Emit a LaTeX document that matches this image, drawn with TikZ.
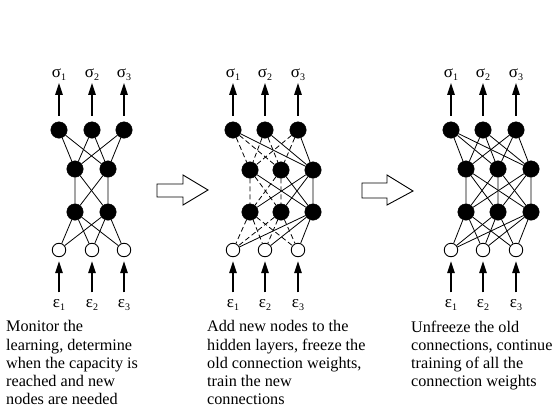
\documentclass[tikz,border=0pt]{standalone}
\usepackage{fontspec}
\setmainfont{Liberation Serif}
\usepackage{tikz}
\usetikzlibrary{arrows.meta}

\newcommand\sub[1]{\raisebox{-0.35ex}{\fontsize{10}{10}\selectfont #1}}

\tikzset{
  full/.style={circle, draw, fill=black, minimum size=16.5pt, inner sep=0pt},
  empty/.style={circle, draw, line width=0.9pt, fill=white, minimum size=13.5pt, inner sep=0pt},
  lbl/.style={inner sep=1pt, font=\fontsize{17}{17}\selectfont},
  feed/.style={line width=1.3pt, -{Triangle[length=12pt,width=7.5pt]}},
  link/.style={line width=0.8pt},
  frozen/.style={line width=0.8pt, dash pattern=on 5pt off 3pt},
  note/.style={anchor=north west, inner sep=0pt, align=left,
    font=\fontsize{16.2}{18.2}\selectfont},
  bigarrow/.style={draw, line width=0.9pt, fill=white}
}

\begin{document}
\begin{tikzpicture}[x=1pt, y=-1pt]
        \useasboundingbox (0,0) rectangle (552,410);

        % left net: two hidden nodes per layer
        \node[full] (oa1) at (59,130) {};
        \node[full] (oa2) at (92,130) {};
        \node[full] (oa3) at (124,130) {};
        \node[full] (ua1) at (75,169) {};
        \node[full] (ua2) at (108,169) {};
        \node[full] (la1) at (75,212) {};
        \node[full] (la2) at (108,212) {};
        \node[empty] (ia1) at (59,250) {};
        \node[empty] (ia2) at (92,250) {};
        \node[empty] (ia3) at (124,250) {};

        \node[lbl] (sa1) at (59,75) {σ\sub1};
        \node[lbl] (sa2) at (92,75) {σ\sub2};
        \node[lbl] (sa3) at (124,75) {σ\sub3};
        \node[lbl] (ea1) at (59,305) {ε\sub1};
        \node[lbl] (ea2) at (92,305) {ε\sub2};
        \node[lbl] (ea3) at (124,305) {ε\sub3};

        \draw[link] (oa1) -- (ua1) (oa1) -- (ua2);
        \draw[link] (oa2) -- (ua1) (oa2) -- (ua2);
        \draw[link] (oa3) -- (ua1) (oa3) -- (ua2);
        \draw[link] (ua1) -- (la1) (ua1) -- (la2);
        \draw[link] (ua2) -- (la1) (ua2) -- (la2);
        \draw[link] (la1) -- (ia1) (la1) -- (ia2) (la1) -- (ia3);
        \draw[link] (la2) -- (ia1) (la2) -- (ia2) (la2) -- (ia3);

        \draw[feed, shorten <=6pt, shorten >=1pt] (oa1) -- (sa1);
        \draw[feed, shorten <=6pt, shorten >=1pt] (oa2) -- (sa2);
        \draw[feed, shorten <=6pt, shorten >=1pt] (oa3) -- (sa3);
        \draw[feed, shorten <=6pt, shorten >=4pt] (ea1) -- (ia1);
        \draw[feed, shorten <=6pt, shorten >=4pt] (ea2) -- (ia2);
        \draw[feed, shorten <=6pt, shorten >=4pt] (ea3) -- (ia3);

        % middle net: new node on the right, old weights frozen (dashed)
        \node[full] (ob1) at (233,130) {};
        \node[full] (ob2) at (265,130) {};
        \node[full] (ob3) at (298,130) {};
        \node[full] (ub1) at (250,170) {};
        \node[full] (ub2) at (281,170) {};
        \node[full] (ub3) at (313,170) {};
        \node[full] (lb1) at (250,212) {};
        \node[full] (lb2) at (281,212) {};
        \node[full] (lb3) at (313,212) {};
        \node[empty] (ib1) at (233,250) {};
        \node[empty] (ib2) at (265,250) {};
        \node[empty] (ib3) at (298,250) {};

        \node[lbl] (sb1) at (233,75) {σ\sub1};
        \node[lbl] (sb2) at (265,75) {σ\sub2};
        \node[lbl] (sb3) at (298,75) {σ\sub3};
        \node[lbl] (eb1) at (233,305) {ε\sub1};
        \node[lbl] (eb2) at (265,305) {ε\sub2};
        \node[lbl] (eb3) at (298,305) {ε\sub3};

        \draw[frozen] (ob1) -- (ub1) (ob1) -- (ub2);
        \draw[frozen] (ob2) -- (ub1) (ob2) -- (ub2);
        \draw[frozen] (ob3) -- (ub1) (ob3) -- (ub2);
        \draw[link] (ob1) -- (ub3) (ob2) -- (ub3) (ob3) -- (ub3);
        \draw[frozen] (ub1) -- (lb1) (ub1) -- (lb2);
        \draw[frozen] (ub2) -- (lb1) (ub2) -- (lb2);
        \draw[link] (ub1) -- (lb3) (ub2) -- (lb3);
        \draw[link] (ub3) -- (lb1) (ub3) -- (lb2) (ub3) -- (lb3);
        \draw[frozen] (lb1) -- (ib1) (lb1) -- (ib2) (lb1) -- (ib3);
        \draw[frozen] (lb2) -- (ib1) (lb2) -- (ib2) (lb2) -- (ib3);
        \draw[link] (lb3) -- (ib1) (lb3) -- (ib2) (lb3) -- (ib3);

        \draw[feed, shorten <=6pt, shorten >=1pt] (ob1) -- (sb1);
        \draw[feed, shorten <=6pt, shorten >=1pt] (ob2) -- (sb2);
        \draw[feed, shorten <=6pt, shorten >=1pt] (ob3) -- (sb3);
        \draw[feed, shorten <=6pt, shorten >=4pt] (eb1) -- (ib1);
        \draw[feed, shorten <=6pt, shorten >=4pt] (eb2) -- (ib2);
        \draw[feed, shorten <=6pt, shorten >=4pt] (eb3) -- (ib3);

        % right net: everything trained again
        \node[full] (oc1) at (451,130) {};
        \node[full] (oc2) at (483,130) {};
        \node[full] (oc3) at (516,130) {};
        \node[full] (uc1) at (466,169) {};
        \node[full] (uc2) at (498,169) {};
        \node[full] (uc3) at (531,169) {};
        \node[full] (lc1) at (466,212) {};
        \node[full] (lc2) at (498,212) {};
        \node[full] (lc3) at (531,212) {};
        \node[empty] (ic1) at (451,250) {};
        \node[empty] (ic2) at (483,250) {};
        \node[empty] (ic3) at (516,250) {};

        \node[lbl] (sc1) at (451,75) {σ\sub1};
        \node[lbl] (sc2) at (483,75) {σ\sub2};
        \node[lbl] (sc3) at (516,75) {σ\sub3};
        \node[lbl] (ec1) at (451,305) {ε\sub1};
        \node[lbl] (ec2) at (483,305) {ε\sub2};
        \node[lbl] (ec3) at (516,305) {ε\sub3};

        \draw[link] (oc1) -- (uc1) (oc1) -- (uc2) (oc1) -- (uc3);
        \draw[link] (oc2) -- (uc1) (oc2) -- (uc2) (oc2) -- (uc3);
        \draw[link] (oc3) -- (uc1) (oc3) -- (uc2) (oc3) -- (uc3);
        \draw[link] (uc1) -- (lc1) (uc1) -- (lc2) (uc1) -- (lc3);
        \draw[link] (uc2) -- (lc1) (uc2) -- (lc2) (uc2) -- (lc3);
        \draw[link] (uc3) -- (lc1) (uc3) -- (lc2) (uc3) -- (lc3);
        \draw[link] (lc1) -- (ic1) (lc1) -- (ic2) (lc1) -- (ic3);
        \draw[link] (lc2) -- (ic1) (lc2) -- (ic2) (lc2) -- (ic3);
        \draw[link] (lc3) -- (ic1) (lc3) -- (ic2) (lc3) -- (ic3);

        \draw[feed, shorten <=6pt, shorten >=1pt] (oc1) -- (sc1);
        \draw[feed, shorten <=6pt, shorten >=1pt] (oc2) -- (sc2);
        \draw[feed, shorten <=6pt, shorten >=1pt] (oc3) -- (sc3);
        \draw[feed, shorten <=6pt, shorten >=4pt] (ec1) -- (ic1);
        \draw[feed, shorten <=6pt, shorten >=4pt] (ec2) -- (ic2);
        \draw[feed, shorten <=6pt, shorten >=4pt] (ec3) -- (ic3);

        % hollow arrows between the stages
        \draw[bigarrow] (157,184) -- (183,184) -- (183,175) -- (208,190)
          -- (183,205) -- (183,197) -- (157,197) -- cycle;
        \draw[bigarrow] (362,183) -- (387,183) -- (387,175) -- (413,191)
          -- (387,205) -- (387,198) -- (362,198) -- cycle;

        % captions
        \node[note] (ta) at (6,320.5) {Monitor the\\learning, determine\\when the capacity is\\reached and new\\nodes are needed};
        \node[note] (tb) at (207,320.5) {Add new nodes to the\\hidden layers, freeze the\\old connection weights,\\train the new\\connections};
        \node[note] (tc) at (411,320.5) {Unfreeze the old\\connections, continue\\training of all the\\connection weights};
\end{tikzpicture}
\end{document}
